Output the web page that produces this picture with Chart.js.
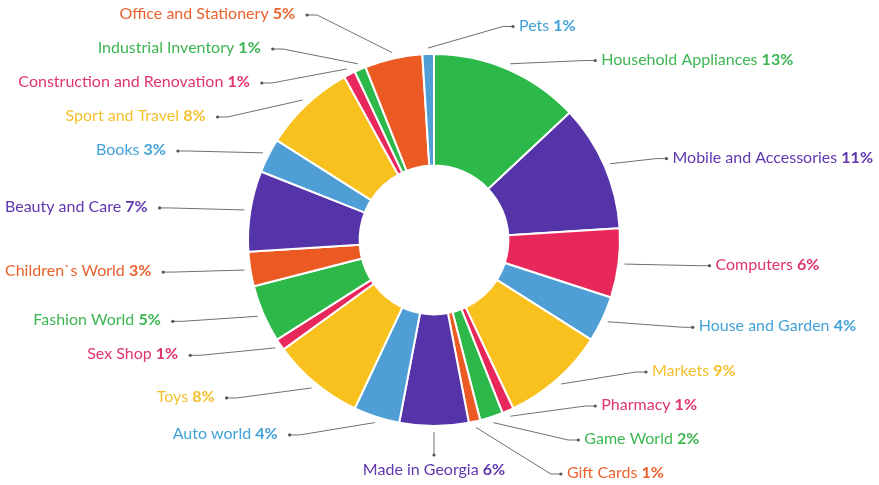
<!DOCTYPE html>
<html>
<head>
<meta charset="utf-8">
<title>Sales by category</title>
<script src="https://cdn.jsdelivr.net/npm/chart.js@4.4.1/dist/chart.umd.min.js"></script>
<style>
  html, body { margin: 0; padding: 0; background: #ffffff; }
  #wrap { width: 879px; height: 485px; position: relative; }
</style>
</head>
<body>
<div id="wrap"><canvas id="chart" width="879" height="485"></canvas></div>
<script>
// Category shares, clockwise from 12 o'clock
const categories = [
  'Household Appliances', 'Mobile and Accessories', 'Computers', 'House and Garden',
  'Markets', 'Pharmacy', 'Game World', 'Gift Cards', 'Made in Georgia', 'Auto world',
  'Toys', 'Sex Shop', 'Fashion World', 'Children`s World', 'Beauty and Care', 'Books',
  'Sport and Travel', 'Construction and Renovation', 'Industrial Inventory',
  'Office and Stationery', 'Pets'
];
const shares = [13, 11, 6, 4, 9, 1, 2, 1, 6, 4, 8, 1, 5, 3, 7, 3, 8, 1, 1, 5, 1];
const shareLabels = shares.map(v => v + '%');

// Colour family of each category
const tones = [
  'green', 'purple', 'pink', 'blue', 'yellow', 'pink', 'green', 'orange', 'purple', 'blue',
  'yellow', 'pink', 'green', 'orange', 'purple', 'blue', 'yellow', 'pink', 'green', 'orange', 'blue'
];
const sliceColor = { green: '#2db84a', purple: '#5533a8', pink: '#e8275a', blue: '#4f9fd6', yellow: '#f8c11e', orange: '#ec5a24' };
const textColor  = { green: '#3db653', purple: '#6038b0', pink: '#e0356a', blue: '#43a2d8', yellow: '#f4c12e', orange: '#e9632f' };

const FONT_FAMILY = 'Lato, "Open Sans", sans-serif';
const FONT_SIZE = 16;
const CANVAS_W = 879;

// Spread labels of one side vertically so they keep a minimum gap
function spreadLabels(items, gap, lo, hi) {
  items.sort((a, b) => a.y0 - b.y0);
  let blocks = items.map(it => ({ items: [it], top: it.y0 }));
  let merged = true;
  while (merged) {
    merged = false;
    blocks.forEach(b => {
      const n = b.items.length;
      let s = 0;
      b.items.forEach((it, k) => { s += it.y0 - k * gap; });
      b.top = Math.min(Math.max(s / n, lo), hi - (n - 1) * gap);
    });
    for (let i = 0; i < blocks.length - 1; i++) {
      const a = blocks[i], c = blocks[i + 1];
      if (a.top + a.items.length * gap > c.top) {
        a.items = a.items.concat(c.items);
        blocks.splice(i + 1, 1);
        merged = true;
        break;
      }
    }
  }
  blocks.forEach(b => b.items.forEach((it, k) => { it.y = b.top + k * gap; }));
}

const outsideLabels = {
  id: 'outsideLabels',
  afterDatasetsDraw(chart) {
    const ctx = chart.ctx;
    const meta = chart.getDatasetMeta(0);
    const right = [], left = [], bottom = [];
    meta.data.forEach((arc, i) => {
      const p = arc.getProps(['x', 'y', 'startAngle', 'endAngle', 'outerRadius'], true);
      const mid = (p.startAngle + p.endAngle) / 2;
      const cos = Math.cos(mid), sin = Math.sin(mid);
      const r0 = p.outerRadius + 6;
      const item = {
        i, cx: p.x, cy: p.y,
        sx: p.x + cos * r0, sy: p.y + sin * r0,
        y0: p.y + sin * 205
      };
      if (sin > 0.995) bottom.push(item);
      else if (cos > -0.05) right.push(item);
      else left.push(item);
    });
    spreadLabels(right, 34, 22, 474);
    spreadLabels(left, 34, 15, 474);

    const bold = 'bold ' + FONT_SIZE + 'px ' + FONT_FAMILY;
    const normal = FONT_SIZE + 'px ' + FONT_FAMILY;
    ctx.save();
    ctx.textBaseline = 'middle';

    const measure = (i) => {
      ctx.font = normal;
      const wName = ctx.measureText(categories[i] + ' ').width;
      ctx.font = bold;
      const wPct = ctx.measureText(shareLabels[i]).width;
      return { wName, wPct, total: wName + wPct };
    };

    const drawText = (i, x0, y) => {
      const m = measure(i);
      ctx.fillStyle = textColor[tones[i]];
      ctx.textAlign = 'left';
      ctx.font = normal;
      ctx.fillText(categories[i] + ' ', x0, y);
      ctx.font = bold;
      ctx.fillText(shareLabels[i], x0 + m.wName, y);
    };

    const drawLeader = (pts) => {
      ctx.strokeStyle = '#707070';
      ctx.lineWidth = 1;
      ctx.beginPath();
      ctx.moveTo(pts[0][0], pts[0][1]);
      for (let k = 1; k < pts.length; k++) ctx.lineTo(pts[k][0], pts[k][1]);
      ctx.stroke();
      const end = pts[pts.length - 1];
      ctx.fillStyle = '#555555';
      ctx.beginPath();
      ctx.arc(end[0], end[1], 1.6, 0, Math.PI * 2);
      ctx.fill();
    };

    right.forEach(it => {
      const m = measure(it.i);
      // keep the label inside the canvas
      const dx = Math.min(it.sx + 85, CANVAS_W - 6 - m.total - 6);
      drawLeader([[it.sx, it.sy], [dx - 10, it.y], [dx, it.y]]);
      drawText(it.i, dx + 6, it.y - 1);
    });
    left.forEach(it => {
      const m = measure(it.i);
      const dx = Math.max(it.sx - 85, 5 + m.total + 12);
      drawLeader([[it.sx, it.sy], [dx + 10, it.y], [dx, it.y]]);
      drawText(it.i, dx - 12 - m.total, it.y - 1);
    });
    bottom.forEach(it => {
      const m = measure(it.i);
      const ey = it.sy + 23;
      drawLeader([[it.sx, it.sy], [it.sx, ey]]);
      drawText(it.i, it.sx - m.total / 2, ey + 15);
    });
    ctx.restore();
  }
};

new Chart(document.getElementById('chart'), {
  type: 'doughnut',
  data: {
    labels: categories,
    datasets: [{
      data: shares,
      backgroundColor: tones.map(t => sliceColor[t]),
      borderColor: '#ffffff',
      borderWidth: 2,
      hoverOffset: 0
    }]
  },
  options: {
    responsive: false,
    devicePixelRatio: 1,
    animation: false,
    events: [],
    cutout: '40%',
    layout: { padding: { left: 247, right: 258, top: 53, bottom: 58 } },
    plugins: {
      legend: { display: false },
      tooltip: { enabled: false }
    }
  },
  plugins: [outsideLabels]
});
</script>
</body>
</html>
